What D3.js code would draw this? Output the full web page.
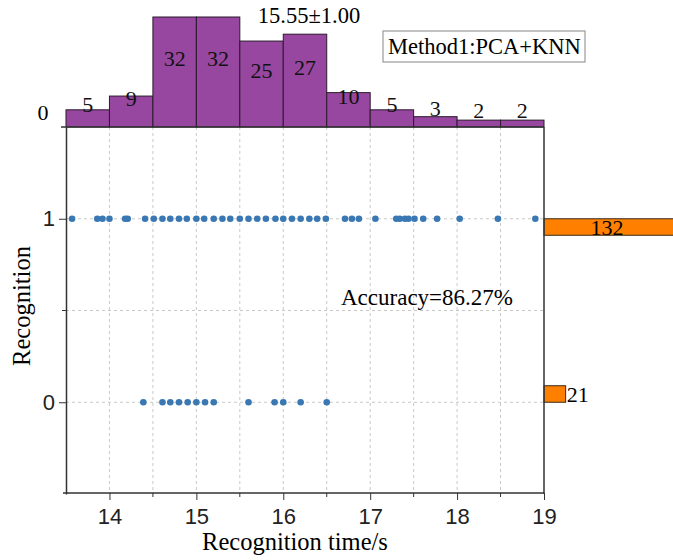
<!DOCTYPE html>
<html>
<head>
<meta charset="utf-8">
<script src="https://cdn.jsdelivr.net/npm/d3@7"></script>
<style>
  body { margin: 0; background: #fff; }
  svg { font-family: "Liberation Serif", "Times New Roman", serif; }
</style>
</head>
<body>
<svg id="chart" width="673" height="560"></svg>
<script>
// top histogram: bin edges and counts
const histEdges = [13.5, 14, 14.5, 15, 15.5, 16, 16.5, 17, 17.5, 18, 18.5, 19];
const histCounts = [5, 9, 32, 32, 25, 27, 10, 5, 3, 2, 2];

// recognition time of correctly recognised samples (visible dots)
const timesOk = [13.57, 13.86, 13.92, 14.0, 14.18, 14.21, 14.41, 14.51, 14.61, 14.7, 14.8,
  14.89, 15.0, 15.09, 15.2, 15.3, 15.39, 15.5, 15.6, 15.7, 15.8, 15.91, 16.0, 16.1, 16.2,
  16.3, 16.39, 16.49, 16.71, 16.79, 16.87, 17.06, 17.3, 17.34, 17.4, 17.44, 17.51, 17.61,
  17.77, 18.03, 18.47, 18.9];
// recognition time of failed samples
const timesFail = [14.39, 14.61, 14.7, 14.8, 14.9, 15.0, 15.1, 15.2, 15.6, 15.9, 16.0, 16.2, 16.5];

// right histogram of recognition result
const recBins = [[0, 0.09], [0.91, 1]];
const recCounts = [21, 132];

const xTicks = [14, 15, 16, 17, 18, 19];
const xMinor = [14.5, 15.5, 16.5, 17.5, 18.5];
const yTicks = [0, 1];

const svg = d3.select('#chart');

const x = d3.scaleLinear().domain([13.5, 19]).range([66, 544]);
const y = d3.scaleLinear().domain([-0.5, 1.5]).range([494, 127]);
const hy = d3.scaleLinear().domain([0, 32]).range([127, 17]);
const xr = d3.scaleLinear().domain([0, 132]).range([544, 680]);

// grid
svg.append('g')
  .selectAll('line')
  .data(xTicks.concat(xMinor).filter(d => d < 19))
  .join('line')
  .attr('x1', d => x(d)).attr('x2', d => x(d))
  .attr('y1', 127).attr('y2', 494)
  .attr('stroke', '#c8c8c8').attr('stroke-dasharray', '3,3');

svg.append('g')
  .selectAll('line')
  .data([0, 0.5, 1])
  .join('line')
  .attr('x1', 66).attr('x2', 544)
  .attr('y1', d => y(d)).attr('y2', d => y(d))
  .attr('stroke', '#c8c8c8').attr('stroke-dasharray', '3,3');

// top histogram
const hist = histCounts.map((c, i) => ({ x0: histEdges[i], x1: histEdges[i + 1], c }));
svg.append('g')
  .selectAll('rect')
  .data(hist)
  .join('rect')
  .attr('x', d => x(d.x0))
  .attr('y', d => hy(d.c))
  .attr('width', d => x(d.x1) - x(d.x0))
  .attr('height', d => hy(0) - hy(d.c))
  .attr('fill', '#97479f')
  .attr('stroke', '#2a1a2c')
  .attr('stroke-width', 1);

svg.append('g')
  .selectAll('text')
  .data(hist)
  .join('text')
  .attr('x', d => x((d.x0 + d.x1) / 2))
  .attr('y', d => hy(d.c / 2) - 6)
  .attr('text-anchor', 'middle')
  .attr('font-size', 22)
  .attr('fill', '#111')
  .text(d => d.c);

svg.append('text').attr('x', 43).attr('y', 120).attr('text-anchor', 'middle')
  .attr('font-size', 22).text('0');
svg.append('text').attr('x', 309).attr('y', 23).attr('text-anchor', 'middle')
  .attr('font-size', 22.5).text('15.55±1.00');

// right histogram
const rec = recCounts.map((c, i) => ({ y0: recBins[i][0], y1: recBins[i][1], c }));
svg.append('g')
  .selectAll('rect')
  .data(rec)
  .join('rect')
  .attr('x', xr(0))
  .attr('y', d => y(d.y1))
  .attr('width', d => xr(d.c) - xr(0))
  .attr('height', d => y(d.y0) - y(d.y1))
  .attr('fill', '#ff8000')
  .attr('stroke', '#3a2a1a')
  .attr('stroke-width', 1);

svg.append('text').attr('x', xr(132 / 2) - 5).attr('y', y(0.955) + 8)
  .attr('text-anchor', 'middle').attr('font-size', 22).text(recCounts[1]);
svg.append('text').attr('x', xr(21) + 1).attr('y', y(0.045) + 8)
  .attr('font-size', 22).text(recCounts[0]);

// dots
const dots = svg.append('g');
dots.selectAll('circle.ok')
  .data(timesOk)
  .join('circle')
  .attr('class', 'ok')
  .attr('cx', d => x(d)).attr('cy', y(1)).attr('r', 3.3)
  .attr('fill', '#3a78b4');
dots.selectAll('circle.fail')
  .data(timesFail)
  .join('circle')
  .attr('class', 'fail')
  .attr('cx', d => x(d)).attr('cy', y(0)).attr('r', 3.3)
  .attr('fill', '#3a78b4');

// axes
const xAxis = svg.append('g').attr('transform', 'translate(0,' + (y(-0.5) - 1) + ')');
xAxis.call(d3.axisBottom(x).tickValues(xTicks).tickSize(7).tickSizeOuter(0).tickFormat(d3.format('d')));
xAxis.append('g').selectAll('line').data(xMinor).join('line')
  .attr('x1', d => x(d)).attr('x2', d => x(d)).attr('y1', 0).attr('y2', 4)
  .attr('stroke', '#333');
xAxis.selectAll('text').attr('font-size', 22).attr('font-family', null).attr('fill', '#222').attr('dy', '0.95em');
xAxis.select('.domain').attr('stroke', '#333').attr('stroke-width', 1.5).attr('d', 'M63,0H' + x(19));
xAxis.selectAll('.tick line').attr('stroke', '#333');

const yAxis = svg.append('g').attr('transform', 'translate(' + x(13.5) + ',0)');
yAxis.call(d3.axisLeft(y).tickValues(yTicks).tickSize(7).tickSizeOuter(0).tickFormat(d3.format('d')));
yAxis.append('line').attr('x1', 0).attr('x2', -4).attr('y1', y(0.5)).attr('y2', y(0.5))
  .attr('stroke', '#333');
yAxis.selectAll('text').attr('font-size', 22).attr('font-family', null).attr('fill', '#222').attr('x', -11);
yAxis.select('.domain').attr('stroke', '#333').attr('stroke-width', 1.5);
yAxis.selectAll('.tick line').attr('stroke', '#333');

// right axis line and top baseline
svg.append('line').attr('x1', x(19)).attr('x2', x(19)).attr('y1', 127).attr('y2', y(-0.5))
  .attr('stroke', '#333').attr('stroke-width', 1.5);
svg.append('line').attr('x1', 61).attr('x2', x(19)).attr('y1', 127).attr('y2', 127)
  .attr('stroke', '#333').attr('stroke-width', 1.5);

// labels
svg.append('text').attr('x', 295).attr('y', 550).attr('text-anchor', 'middle')
  .attr('font-size', 24.5).text('Recognition time/s');
svg.append('text').attr('transform', 'translate(30,306) rotate(-90)').attr('text-anchor', 'middle')
  .attr('font-size', 24.5).text('Recognition');
svg.append('text').attr('x', 341).attr('y', 305).attr('font-size', 23).text('Accuracy=86.27%');

// method box
svg.append('rect').attr('x', 383).attr('y', 31).attr('width', 202).attr('height', 31)
  .attr('fill', '#fff').attr('stroke', '#999').attr('stroke-width', 1.2);
svg.append('text').attr('x', 388).attr('y', 54).attr('font-size', 22.5).text('Method1:PCA+KNN');
</script>
</body>
</html>
